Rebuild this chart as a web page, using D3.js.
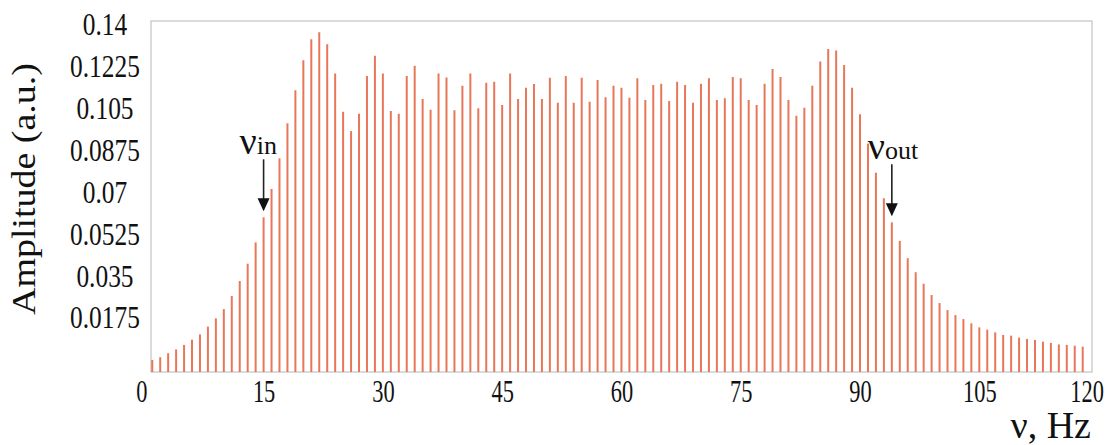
<!DOCTYPE html>
<html>
<head>
<meta charset="utf-8">
<script src="https://cdn.jsdelivr.net/npm/d3@7"></script>
<style>
  body { margin: 0; background: #fff; }
  svg { display: block; font-family: "Liberation Serif", "Times New Roman", serif; }
</style>
</head>
<body>
<div id="chart"></div>
<script>
const width = 1107
const height = 445

// spectrum amplitudes, one per harmonic (1 Hz apart, starting at 1 Hz)
const amplitudes = [
  0.0048, 0.0059, 0.0075, 0.0090, 0.0108, 0.0129, 0.0150, 0.0181, 0.0214, 0.0251,
  0.0303, 0.0363, 0.0432, 0.0517, 0.0617, 0.0730, 0.0852, 0.0992, 0.1124, 0.1243,
  0.1327, 0.1355, 0.1307, 0.1191, 0.1038, 0.0961, 0.1030, 0.1181, 0.1261, 0.1191,
  0.1041, 0.1030, 0.1181, 0.1222, 0.1089, 0.1046, 0.1191, 0.1175, 0.1044, 0.1142,
  0.1191, 0.1052, 0.1154, 0.1158, 0.1065, 0.1191, 0.1089, 0.1134, 0.1149, 0.1089,
  0.1174, 0.1074, 0.1181, 0.1074, 0.1174, 0.1078, 0.1165, 0.1096, 0.1142, 0.1134,
  0.1094, 0.1172, 0.1085, 0.1145, 0.1150, 0.1081, 0.1158, 0.1145, 0.1074, 0.1150,
  0.1172, 0.1085, 0.1092, 0.1177, 0.1172, 0.1085, 0.1065, 0.1150, 0.1209, 0.1177,
  0.1085, 0.1022, 0.1054, 0.1142, 0.1238, 0.1288, 0.1282, 0.1225, 0.1134, 0.1028,
  0.0911, 0.0795, 0.0693, 0.0597, 0.0523, 0.0454, 0.0398, 0.0352, 0.0307, 0.0275,
  0.0247, 0.0227, 0.0211, 0.0194, 0.0178, 0.0169, 0.0158, 0.0148, 0.0145, 0.0137,
  0.0132, 0.0128, 0.0121, 0.0116, 0.0110, 0.0108, 0.0105, 0.0101
]
const freqs = d3.range(1, amplitudes.length + 1)

const xTicks = [0, 15, 30, 45, 60, 75, 90, 105, 120]
const yTicks = [0.0175, 0.035, 0.0525, 0.07, 0.0875, 0.105, 0.1225, 0.14]
const yTickLabels = ['0.0175', '0.035', '0.0525', '0.07', '0.0875', '0.105', '0.1225', '0.14']

// annotated harmonics
const marks = [
  { name: 'in', freq: 15 },
  { name: 'out', freq: 94 }
]

const frame = { left: 151, right: 1092, top: 21, bottom: 372 }
const barColor = '#e8775a'

const xScale = d3.scaleLinear().domain([0, 120]).range([144.3, 1098.6])
const yScale = d3.scaleLinear().domain([0, 0.14]).range([frame.bottom, frame.top])
// tick labels on the scan sit a little off the gridline spacing
const yLabelScale = d3.scaleLinear().domain([0.0175, 0.14]).range([318, 25])

const svg = d3.select('#chart').append('svg')
  .attr('width', width)
  .attr('height', height)

svg.append('rect')
  .attr('width', width)
  .attr('height', height)
  .attr('fill', 'white')

// plot frame
svg.append('rect')
  .attr('x', frame.left)
  .attr('y', frame.top)
  .attr('width', frame.right - frame.left)
  .attr('height', frame.bottom - frame.top)
  .attr('fill', 'none')
  .attr('stroke', '#c4c4c4')
  .attr('stroke-width', 1.2)

svg.append('g')
  .selectAll('line')
  .data(amplitudes)
  .join('line')
  .attr('x1', (d, i) => xScale(freqs[i]))
  .attr('x2', (d, i) => xScale(freqs[i]))
  .attr('y1', yScale(0))
  .attr('y2', d => yScale(d))
  .attr('stroke', barColor)
  .attr('stroke-width', 2)

// bottom axis
const xAxis = svg.append('g')
  .attr('transform', 'translate(0,' + frame.bottom + ')')
  .call(d3.axisBottom(xScale).tickValues(xTicks).tickSize(0).tickPadding(0))
xAxis.select('.domain').remove()
xAxis.selectAll('text')
  .attr('y', 0)
  .attr('dy', '0.95em')
  .attr('transform', 'scale(0.7,1)')
  .attr('font-size', 32)
  .attr('fill', '#111')
  .attr('font-family', '"Liberation Serif", serif')
xAxis.selectAll('.tick')
  .filter(d => d === 0)
  .select('text').attr('transform', 'translate(-3,0) scale(0.7,1)')
xAxis.selectAll('.tick')
  .filter(d => d === 120)
  .select('text').attr('transform', 'translate(-12,0) scale(0.7,1)')

// left axis labels
const yAxis = svg.append('g')
  .attr('transform', 'translate(' + frame.left + ',0)')
  .call(d3.axisLeft(yLabelScale).tickValues(yTicks).tickSize(0)
    .tickFormat((d, i) => yTickLabels[i]))
yAxis.select('.domain').remove()
yAxis.selectAll('text')
  .attr('x', 0)
  .attr('text-anchor', 'middle')
  .attr('transform', 'translate(-46,0) scale(0.82,1)')
  .attr('font-size', 31)
  .attr('fill', '#111')
  .attr('font-family', '"Liberation Serif", serif')

svg.append('text')
  .attr('transform', 'translate(35,189) rotate(-90) scale(1.15,1)')
  .attr('text-anchor', 'middle')
  .attr('font-size', 33)
  .attr('fill', '#111')
  .text('Amplitude (a.u.)')

svg.append('text')
  .attr('x', 1091)
  .attr('y', 438)
  .attr('text-anchor', 'end')
  .attr('font-size', 38)
  .attr('fill', '#111')
  .text('ν, Hz')

// ν_in / ν_out arrows
const ann = svg.append('g')
marks.forEach(m => {
  const ax = xScale(m.freq)
  const tip = yScale(amplitudes[m.freq - 1]) - 6
  const tail = tip - 52
  ann.append('line')
    .attr('x1', ax).attr('x2', ax)
    .attr('y1', tail).attr('y2', tip - 10)
    .attr('stroke', '#222')
    .attr('stroke-width', 1.6)
  ann.append('path')
    .attr('d', 'M' + (ax - 6) + ',' + (tip - 13) + 'L' + (ax + 6) + ',' + (tip - 13) + 'L' + ax + ',' + tip + 'Z')
    .attr('fill', '#111')
  const t = ann.append('text')
    .attr('x', ax - 24)
    .attr('y', tail - 5)
    .attr('fill', '#111')
  t.append('tspan').attr('font-size', 38).text('ν')
  t.append('tspan').attr('font-size', 26).text(m.name)
})
</script>
</body>
</html>
